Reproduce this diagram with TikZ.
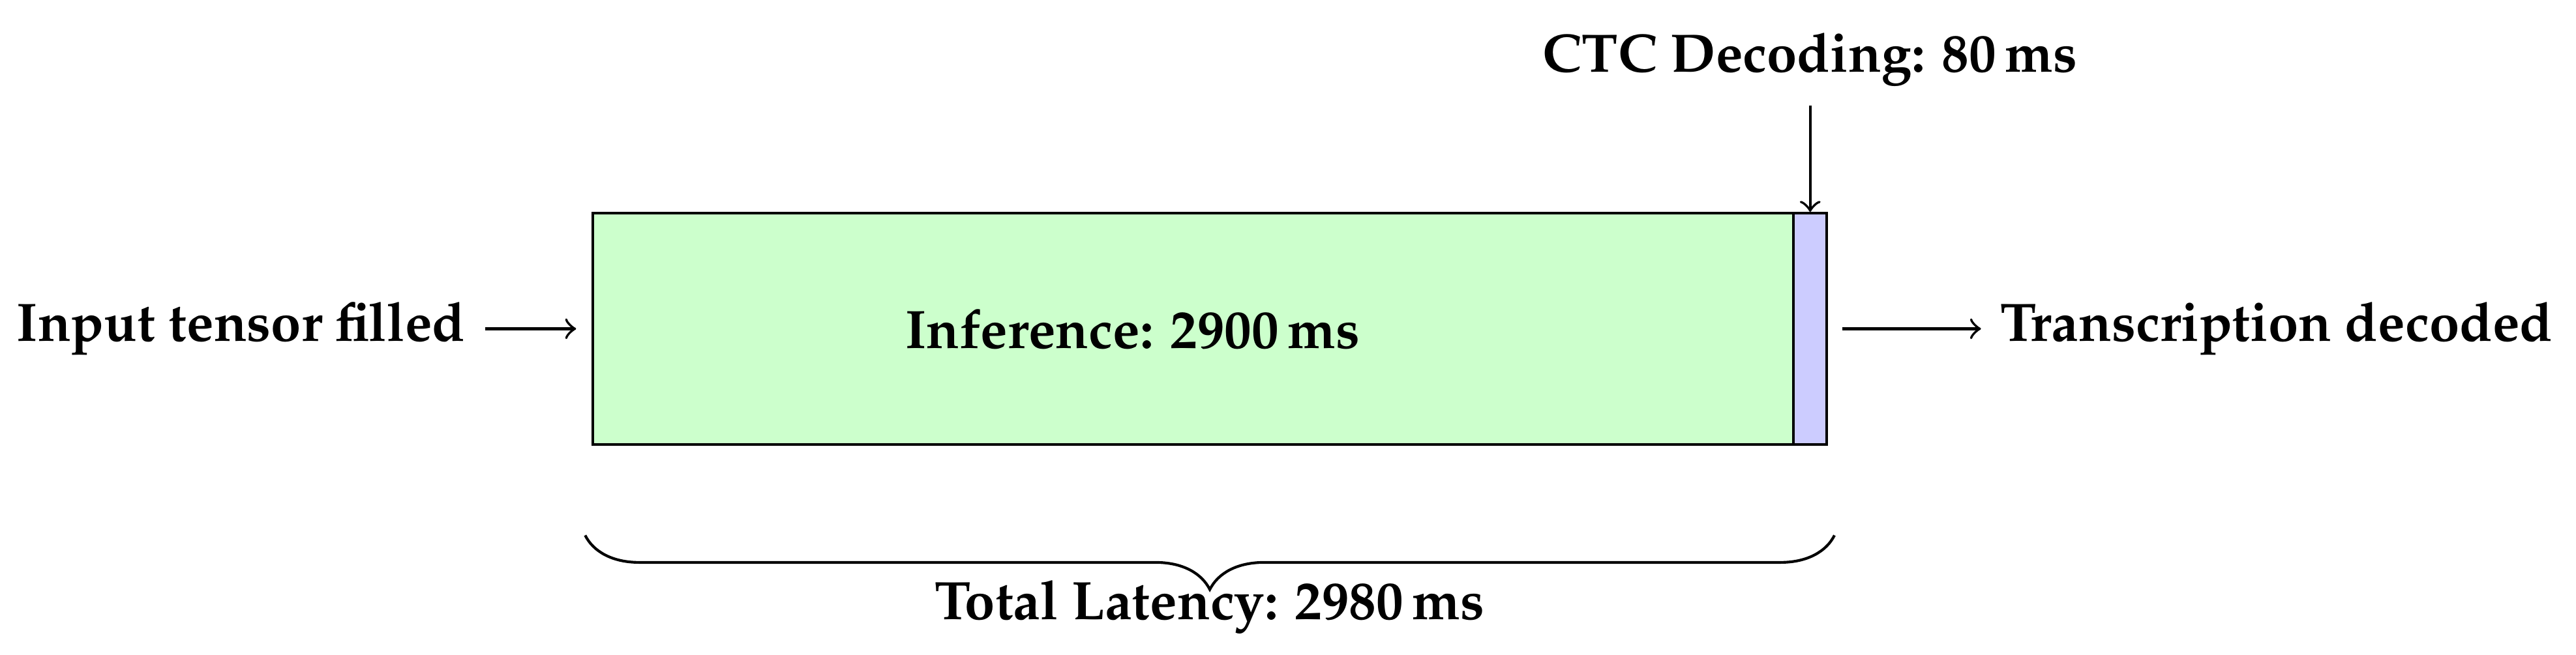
\documentclass[tikz,border=0pt]{standalone}
\usepackage[T1]{fontenc}
\usepackage{mathpazo}
\usetikzlibrary{decorations.pathreplacing}
\tikzset{
  stagebox/.style={draw, inner sep=0pt, minimum height=1.5cm},
  lbl/.style={font=\bfseries},
  conn/.style={->},
}
\begin{document}
\begin{tikzpicture}[line width=0.5pt]
\useasboundingbox (-3.844,-1.363) rectangle (12.858,2.883);
% bars
\node[stagebox, fill=green!20, minimum width=7.785cm] (inf) at (3.8926,0.75) {};
\node[stagebox, fill=blue!20, minimum width=0.215cm] (ctcbox) at (7.8926,0.75) {};
\node[lbl] (inflabel) at (3.5,0.75) {Inference: 2900\,ms};
% input / output
\node[lbl, anchor=east] (input) at (-0.7,0.75) {Input tensor filled};
\node[lbl, anchor=west] (output) at (9,0.75) {Transcription decoded};
\draw[conn, shorten >=0.1cm] (input) -- (inf);
\draw[conn, shorten <=0.09cm] (ctcbox) -- (output);
% CTC label
\node[lbl, anchor=south] (ctclabel) at (7.8926,2.2) {CTC Decoding: 80\,ms};
\draw[conn] (ctclabel) -- (ctcbox);
% brace
\coordinate (bl) at (-0.05,-0.59);
\coordinate (br) at (8.05,-0.59);
\draw[decorate, decoration={brace, mirror, amplitude=10pt}] (bl) -- (br);
\node[lbl, anchor=base] (total) at (4,-1.134) {Total Latency: 2980\,ms};
\end{tikzpicture}
\end{document}
